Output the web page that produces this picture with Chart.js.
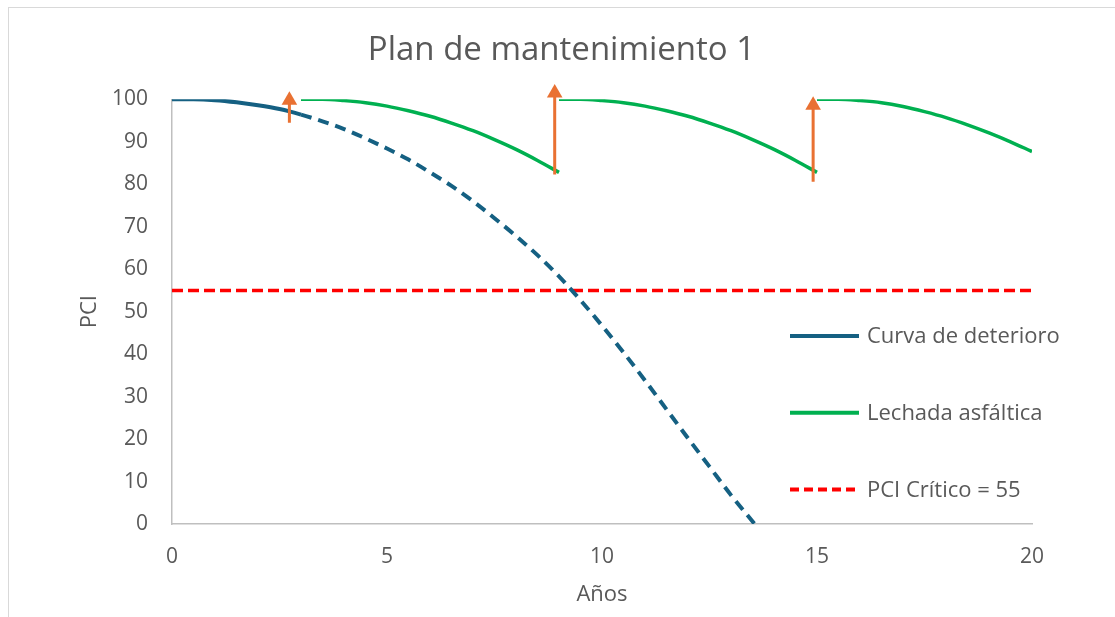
<!DOCTYPE html>
<html>
<head>
<meta charset="utf-8">
<title>Plan de mantenimiento 1</title>
<script src="https://cdn.jsdelivr.net/npm/chart.js@4.4.1/dist/chart.umd.min.js"></script>
<style>
  html, body { margin: 0; padding: 0; background: #ffffff; overflow: hidden; }
  #frame { position: absolute; left: 8px; top: 7px; width: 1120px; height: 620px;
           border: 1px solid #d9d9d9; box-sizing: border-box; }
  #chart { position: absolute; left: 0; top: 0; }
</style>
</head>
<body>
<div id="frame"></div>
<canvas id="chart" width="1115" height="617"></canvas>
<script>
// Curva de deterioro (sin intervención): años y PCI
const detYears = [0, 0.5, 1, 1.5, 2, 2.5, 3, 3.5, 4, 4.5, 5, 5.5, 6, 6.5, 7, 7.5, 8, 8.5, 9, 9.5, 10, 10.5, 11, 11.5, 12, 12.5, 13, 13.55];
const detPci   = [100, 100, 99.8, 99.3, 98.6, 97.7, 96.4, 94.8, 93.0, 90.8, 88.4, 85.8, 82.8, 79.6, 76.0, 72.0, 67.8, 63.3, 58.3, 52.7, 46.7, 40.4, 33.8, 27.0, 20.2, 13.5, 6.8, 0];
const solidUntil = 3; // tramo observado; después, proyección

// Lechada asfáltica: tres ciclos
const lech1Years = [3, 3.5, 4, 4.5, 5, 5.5, 6, 6.5, 7, 7.5, 8, 8.5, 9];
const lech1Pci   = [100, 100, 99.7, 99.2, 98.4, 97.3, 96.0, 94.4, 92.6, 90.5, 88.2, 85.6, 82.8];
const lech2Years = [9, 9.5, 10, 10.5, 11, 11.5, 12, 12.5, 13, 13.5, 14, 14.5, 15];
const lech2Pci   = [100, 100, 99.7, 99.2, 98.4, 97.3, 96.0, 94.4, 92.6, 90.5, 88.2, 85.6, 82.8];
const lech3Years = [15, 15.5, 16, 16.5, 17, 17.5, 18, 18.5, 19, 19.5, 20];
const lech3Pci   = [100, 100, 99.7, 99.2, 98.3, 97.1, 95.7, 94.0, 92.1, 90.0, 87.7];

// Intervenciones (flechas): año, PCI antes, PCI de la punta
const arrowYears = [2.73, 8.9, 14.91];
const arrowFrom  = [94.5, 82.3, 80.6];
const arrowTo    = [99.8, 101.5, 98.6];

const pciCritico = 55;
const xTicks = [0, 5, 10, 15, 20];
const yTicks = [0, 10, 20, 30, 40, 50, 60, 70, 80, 90, 100];

const BLUE = '#156082', GREEN = '#00B050', RED = '#FF0000', ORANGE = '#E97132';
const TEXT = '#595959', AXIS = '#BFBFBF';
const FONT = '"Open Sans", "Liberation Sans", sans-serif';

const toPoints = (xs, ys) => xs.map((x, i) => ({ x, y: ys[i] }));

// los tres ciclos en una sola serie, separados por huecos
const lechPoints = [
  ...toPoints(lech1Years, lech1Pci), { x: 9, y: null },
  ...toPoints(lech2Years, lech2Pci), { x: 15, y: null },
  ...toPoints(lech3Years, lech3Pci)
];

const arrowPoints = [];
arrowYears.forEach((yr, i) => {
  arrowPoints.push({ x: yr, y: arrowFrom[i], tip: false });
  arrowPoints.push({ x: yr, y: arrowTo[i], tip: true });
  if (i < arrowYears.length - 1) arrowPoints.push({ x: yr, y: null, tip: false });
});

// leyenda a la derecha, sobre el área de trazado
const legendRows = [
  { label: 'Curva de deterioro', color: BLUE, dash: [] },
  { label: 'Lechada asfáltica', color: GREEN, dash: [] },
  { label: 'PCI Crítico = 55', color: RED, dash: [9, 5] }
];
const sideLegend = {
  id: 'sideLegend',
  afterDraw(chart) {
    const ctx = chart.ctx;
    ctx.save();
    ctx.font = '22px ' + FONT;
    ctx.textBaseline = 'middle';
    ctx.textAlign = 'left';
    legendRows.forEach((row, i) => {
      const y = 336 + i * 76.7;
      ctx.beginPath();
      ctx.setLineDash(row.dash);
      ctx.lineWidth = 4;
      ctx.lineCap = 'butt';
      ctx.strokeStyle = row.color;
      ctx.moveTo(790, y);
      ctx.lineTo(859, y);
      ctx.stroke();
      ctx.setLineDash([]);
      ctx.fillStyle = TEXT;
      ctx.fillText(row.label, 867, y + 1);
    });
    ctx.restore();
  }
};

new Chart(document.getElementById('chart'), {
  type: 'line',
  data: {
    datasets: [
      {
        label: 'Intervención',
        data: arrowPoints,
        borderColor: ORANGE,
        backgroundColor: ORANGE,
        borderWidth: 3,
        pointStyle: 'triangle',
        pointRadius: ctx => (ctx.raw && ctx.raw.tip ? 9 : 0),
        pointHoverRadius: 0,
        pointBorderWidth: 0,
        spanGaps: false,
        clip: false,
        order: 0
      },
      {
        label: 'Curva de deterioro',
        data: toPoints(detYears, detPci),
        borderColor: BLUE,
        borderWidth: 4,
        pointRadius: 0,
        cubicInterpolationMode: 'monotone',
        segment: {
          borderDash: ctx => (ctx.p0.parsed.x >= solidUntil ? [11, 7] : [])
        },
        order: 1
      },
      {
        label: 'Lechada asfáltica',
        data: lechPoints,
        borderColor: GREEN,
        borderWidth: 3.5,
        pointRadius: 0,
        spanGaps: false,
        cubicInterpolationMode: 'monotone',
        order: 2
      },
      {
        label: 'PCI Crítico = 55',
        data: [{ x: xTicks[0], y: pciCritico }, { x: xTicks[xTicks.length - 1], y: pciCritico }],
        borderColor: RED,
        borderWidth: 3.5,
        borderDash: [11, 5],
        pointRadius: 0,
        order: 3
      }
    ]
  },
  options: {
    responsive: false,
    animation: false,
    devicePixelRatio: 1,
    layout: { padding: { left: 8, right: 0, top: 0, bottom: 0 } },
    plugins: {
      legend: { display: false },
      tooltip: { enabled: false },
      title: {
        display: true,
        text: 'Plan de mantenimiento 1',
        color: TEXT,
        font: { family: FONT, size: 33, weight: 'normal', lineHeight: 1.2 },
        padding: { top: 31, bottom: 28.7 }
      }
    },
    scales: {
      x: {
        type: 'linear',
        min: xTicks[0],
        max: xTicks[xTicks.length - 1],
        afterBuildTicks: s => { s.ticks = xTicks.map(v => ({ value: v })); },
        afterFit: s => { s.height = 93; },
        grid: { display: false, drawTicks: false },
        border: { display: true, color: AXIS, width: 1.5 },
        ticks: { color: TEXT, font: { family: FONT, size: 21 }, padding: 20, maxRotation: 0 },
        title: {
          display: true, text: 'Años', color: TEXT,
          font: { family: FONT, size: 22, lineHeight: 1.2 },
          padding: { top: 0, bottom: 9 }
        }
      },
      y: {
        type: 'linear',
        min: yTicks[0],
        max: yTicks[yTicks.length - 1],
        afterBuildTicks: s => { s.ticks = yTicks.map(v => ({ value: v })); },
        afterFit: s => { s.width = 164; },
        grid: { display: false, drawTicks: false },
        border: { display: true, color: AXIS, width: 1.5 },
        ticks: { color: TEXT, font: { family: FONT, size: 21 }, padding: 24 },
        title: {
          display: true, text: 'PCI', color: TEXT,
          font: { family: FONT, size: 22, lineHeight: 1.2 },
          padding: { top: 69, bottom: 0 }
        }
      },
      spacer: {
        type: 'linear',
        position: 'right',
        display: true,
        afterFit: s => { s.width = 1115 - 1032; },
        grid: { display: false, drawTicks: false },
        border: { display: false },
        ticks: { display: false }
      }
    }
  },
  plugins: [sideLegend]
});
</script>
</body>
</html>
